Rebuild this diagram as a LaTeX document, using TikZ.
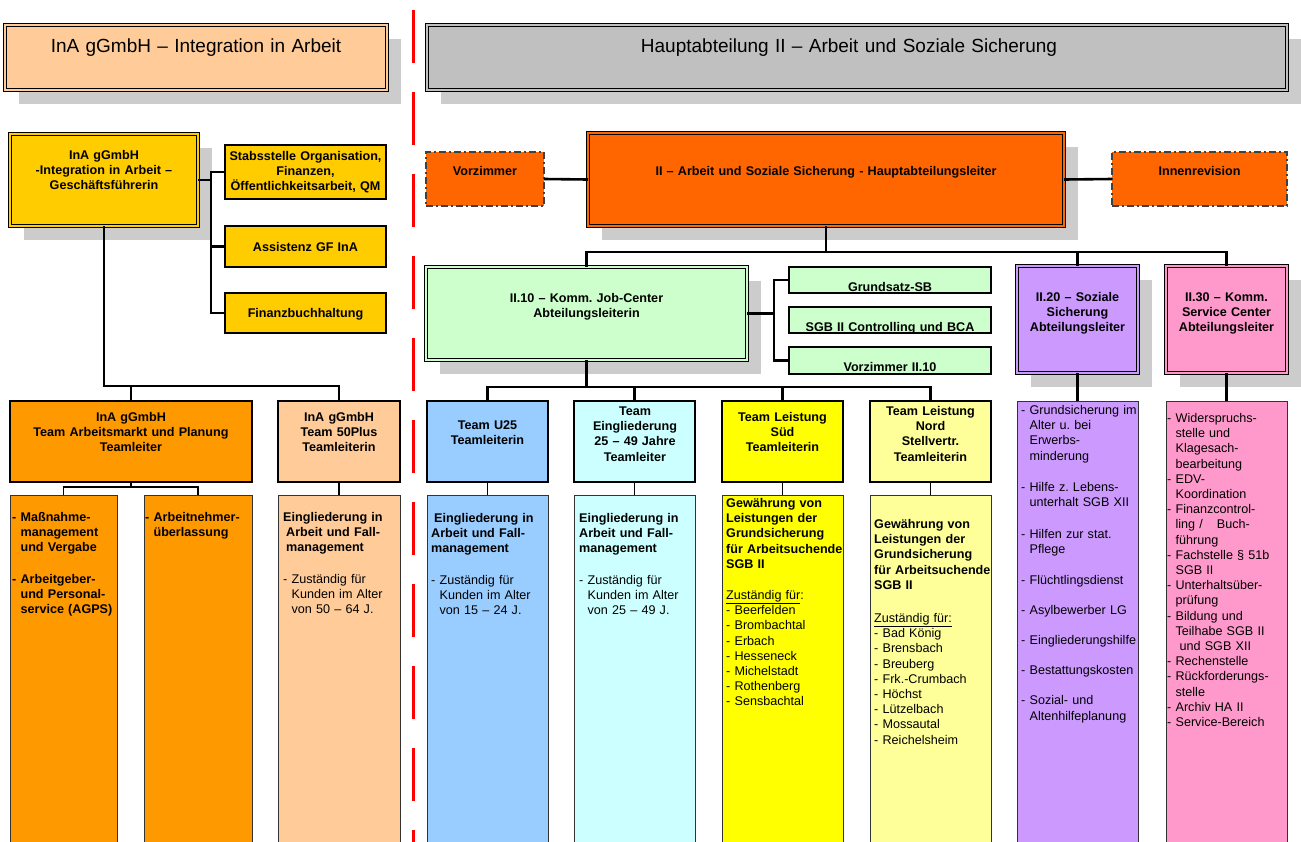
\documentclass[tikz,border=0pt]{standalone}
\usepackage{fontspec}
\setmainfont{Liberation Sans}
\usetikzlibrary{shadows}
\definecolor{peach}{HTML}{FFCC99}
\definecolor{titlegray}{HTML}{C0C0C0}
\definecolor{gold}{HTML}{FFCC00}
\definecolor{amber}{HTML}{FF9900}
\definecolor{hal}{HTML}{FF6600}
\definecolor{jcgreen}{HTML}{CCFFCC}
\definecolor{ublue}{HTML}{99CCFF}
\definecolor{ecyan}{HTML}{CCFFFF}
\definecolor{syellow}{HTML}{FFFF00}
\definecolor{nyellow}{HTML}{FFFF99}
\definecolor{lila}{HTML}{CC99FF}
\definecolor{rosa}{HTML}{FF99CC}
\newcommand\orgfont{\fontsize{12.6}{15.2}\selectfont\frenchspacing}
\newcommand\titlefont{\fontsize{19}{23}\selectfont}
\newcommand\ind{\hphantom{- }}

\begin{document}
\begin{tikzpicture}[x=1pt,y=-1pt,
 box/.style={draw,rectangle,anchor=north west,inner sep=0pt,outer sep=0pt},
 dbl/.style={box,line width=0.7pt,double=#1,double distance=2.4pt,fill=#1},
 shade/.style={drop shadow={shadow xshift=14pt,shadow yshift=-14pt,fill=black!20,opacity=1}},
 aside/.style={box,line width=1.3pt,fill=gold,minimum width=161pt},
 side/.style={box,draw=black!75,line width=1.3pt,dash pattern=on 7pt off 3pt on 2pt off 3pt,fill=hal},
 sub/.style={box,line width=1.1pt,fill=jcgreen,minimum width=202pt},
 team/.style={box,line width=1.6pt,minimum width=121pt,minimum height=81pt},
 list/.style={box,draw=black!80,line width=0.9pt,minimum height=350pt},
 txt/.style={font=\orgfont\bfseries,align=center,text width=#1,anchor=base,inner sep=0pt},
 txt/.default=170pt,
 ltxt/.style={font=\orgfont,align=left,text width=#1,anchor=base west,inner sep=0pt},
 ltxt/.default=150pt,
 bus/.style={line width=2.6pt},
 link/.style={line width=1.2pt},
 sep/.style={red,line width=3pt,dash pattern=on 53pt off 29pt}]
\useasboundingbox (0,0) rectangle (1301,841);

% titles
\node[dbl=peach,shade,minimum width=382pt,minimum height=65pt] (tl) at (5,25) {};
\node[txt=380pt,font=\titlefont] (tl-t) at (196,52) {InA gGmbH – Integration in Arbeit};
\node[dbl=titlegray,shade,minimum width=860pt,minimum height=65pt] (tr) at (427,25) {};
\node[txt=800pt,font=\titlefont] (tr-t) at (849,52) {Hauptabteilung II – Arbeit und Soziale Sicherung};
\draw[sep] (413,10) -- (413,845);

% InA gGmbH
\node[dbl=gold,shade,minimum width=188pt,minimum height=92pt] (gf) at (10,134) {};
\node[txt=190pt] (gf-t) at (104,159.5) {InA gGmbH\\-Integration in Arbeit –\\Geschäftsführerin};
\node[aside,minimum height=54pt] (stab) at (225,145) {};
\node[txt] (stab-t) at (305.5,160) {Stabsstelle Organisation,\\Finanzen,\\Öffentlichkeitsarbeit, QM};
\node[aside,minimum height=41pt] (asst) at (225,226) {};
\node[txt] (asst-t) at (305.5,251) {Assistenz GF InA};
\node[aside,minimum height=40pt] (fibu) at (225,293) {};
\node[txt] (fibu-t) at (305.5,317.5) {Finanzbuchhaltung};

\node[team,fill=amber,minimum width=242pt] (am) at (10,401) {};
\node[txt=240pt] (am-t) at (131,421.5) {InA gGmbH\\Team Arbeitsmarkt und Planung\\Teamleiter};
\node[team,fill=peach,minimum width=122pt] (plus) at (278,401) {};
\node[txt] (plus-t) at (339,421.5) {InA gGmbH\\Team 50Plus\\Teamleiterin};
\node[list,fill=amber,minimum width=107pt] (mass) at (10,495) {};
\node[ltxt,font=\orgfont\bfseries] (mass-t) at (12,521.5)
 {- Maßnahme-\\\ind management\\\ind und Vergabe\\[16pt]- Arbeitgeber-\\\ind und Personal-\\\ind service (AGPS)};
\node[list,fill=amber,minimum width=108pt] (arb) at (144,495) {};
\node[ltxt,font=\orgfont\bfseries] (arb-t) at (145,521.5) {- Arbeitnehmer-\\\ind überlassung};
\node[list,fill=peach,minimum width=122pt] (plusl) at (278,495) {};
\node[ltxt] (plusl-t) at (283,521.5)
 {\bfseries Eingliederung in\\\hspace*{3pt}Arbeit und Fall-\\\hspace*{3pt}management\\[16pt]\mdseries
  - Zuständig für\\\ind Kunden im Alter\\\ind von 50 – 64 J.};

% Hauptabteilung II
\node[side,minimum width=118pt,minimum height=54pt] (vz) at (426,152) {};
\node[txt] (vz-t) at (485,175.5) {Vorzimmer};
\node[dbl=hal,shade,minimum width=476pt,minimum height=93pt] (hal) at (588,133) {};
\node[txt=480pt] (hal-t) at (826,175.5) {II – Arbeit und Soziale Sicherung - Hauptabteilungsleiter};
\node[side,minimum width=175pt,minimum height=54pt] (irev) at (1112,152) {};
\node[txt] (irev-t) at (1199.5,175.5) {Innenrevision};

\node[dbl=jcgreen,shade,minimum width=321pt,minimum height=93pt] (jc) at (426,267) {};
\node[txt=300pt] (jc-t) at (586.5,302.5) {II.10 – Komm. Job-Center\\Abteilungsleiterin};
\node[sub,minimum height=26pt] (grund) at (789,267) {};
\node[txt=200pt] (grund-t) at (890,291.5) {Grundsatz-SB};
\node[sub,minimum height=26pt] (sgb) at (789,307) {};
\node[txt=200pt] (sgb-t) at (890,331.5) {SGB II Controlling und BCA};
\node[sub,minimum height=27pt] (vz10) at (789,347) {};
\node[txt=200pt] (vz10-t) at (890,371.5) {Vorzimmer II.10};

\node[dbl=lila,shade,minimum width=121pt,minimum height=107pt] (s20) at (1017,266) {};
\node[txt=130pt] (s20-t) at (1077.5,301.5) {II.20 – Soziale\\Sicherung\\Abteilungsleiter};
\node[dbl=rosa,shade,minimum width=121pt,minimum height=107pt] (s30) at (1166,266) {};
\node[txt=130pt] (s30-t) at (1226.5,301.5) {II.30 – Komm.\\Service Center\\Abteilungsleiter};

\node[team,fill=ublue] (u25) at (427,401) {};
\node[txt=130pt] (u25-t) at (487.5,429.5) {Team U25\\Teamleiterin};
\node[team,fill=ecyan] (egl) at (574,401) {};
\node[txt=130pt] (egl-t) at (635,415.5) {Team\\Eingliederung\\25 – 49 Jahre\\Teamleiter};
\node[team,fill=syellow] (sued) at (722,401) {};
\node[txt=130pt] (sued-t) at (782.5,421.5) {Team Leistung\\Süd\\Teamleiterin};
\node[team,fill=nyellow] (nord) at (870,401) {};
\node[txt=130pt] (nord-t) at (930.5,415.5) {Team Leistung\\Nord\\Stellvertr.\\Teamleiterin};

\node[list,fill=ublue,minimum width=121pt] (u25l) at (427,495) {};
\node[ltxt] (u25l-t) at (431,522.5)
 {\bfseries\hspace*{3pt}Eingliederung in\\Arbeit und Fall-\\management\\[16pt]\mdseries
  - Zuständig für\\\ind Kunden im Alter\\\ind von 15 – 24 J.};
\node[list,fill=ecyan,minimum width=121pt] (egll) at (574,495) {};
\node[ltxt] (egll-t) at (579,522.5)
 {\bfseries Eingliederung in\\Arbeit und Fall-\\management\\[16pt]\mdseries
  - Zuständig für\\\ind Kunden im Alter\\\ind von 25 – 49 J.};
\node[list,fill=syellow,minimum width=121pt] (suedl) at (722,495) {};
\node[ltxt] (suedl-t) at (726,507.5)
 {\bfseries Gewährung von\\Leistungen der\\Grundsicherung\\für Arbeitsuchende\\SGB II\\[16pt]\mdseries
  \underline{Zuständig für}:\\- Beerfelden\\- Brombachtal\\- Erbach\\- Hesseneck\\- Michelstadt\\- Rothenberg\\- Sensbachtal};
\node[list,fill=nyellow,minimum width=121pt] (nordl) at (870,495) {};
\node[ltxt] (nordl-t) at (874,528.5)
 {\bfseries Gewährung von\\Leistungen der\\Grundsicherung\\für Arbeitsuchende\\SGB II\\[18pt]\mdseries
  \underline{Zuständig für:}\\- Bad König\\- Brensbach\\- Breuberg\\- Frk.-Crumbach\\- Höchst\\- Lützelbach\\- Mossautal\\- Reichelsheim};

\node[list,fill=lila,minimum width=121pt,minimum height=444pt] (s20l) at (1017,401) {};
\node[ltxt] (s20l-t) at (1021,414.5)
 {- Grundsicherung im\\\ind Alter u. bei\\\ind Erwerbs-\\\ind minderung\\[16pt]- Hilfe z. Lebens-\\\ind unterhalt SGB XII\\[17pt]%
  - Hilfen zur stat.\\\ind Pflege\\[15pt]- Flüchtlingsdienst\\[15pt]- Asylbewerber LG\\[15pt]- Eingliederungshilfe\\[15pt]%
  - Bestattungskosten\\[15pt]- Sozial- und\\\ind Altenhilfeplanung};
\node[list,fill=rosa,minimum width=121pt,minimum height=444pt] (s30l) at (1166,401) {};
\node[ltxt] (s30l-t) at (1167,422.5)
 {- Widerspruchs-\\\ind stelle und\\\ind Klagesach-\\\ind bearbeitung\\- EDV-\\\ind Koordination\\- Finanzcontrol-\\\ind ling /\hspace{14pt}Buch-\\\ind führung\\%
  - Fachstelle § 51b\\\ind SGB II\\- Unterhaltsüber-\\\ind prüfung\\- Bildung und\\\ind Teilhabe SGB II\\\ind\hspace*{4pt}und SGB XII\\%
  - Rechenstelle\\- Rückforderungs-\\\ind stelle\\- Archiv HA II\\- Service-Bereich};

% connectors
\draw[bus] (gf.east) -- ++(13,0) coordinate (gfb) |- (stab.west);
\draw[bus] (gfb) |- (asst.west);
\draw[bus] (gfb) |- (fibu.west);
\draw[bus] (gf.south) -- ++(0,160) coordinate (gfd) -| (am.north);
\draw[bus] (gfd) -| (plus.north);
\draw[link] (am.south) -- ++(0,5) coordinate (amd) -| (mass.north);
\draw[link] (amd) -| (arb.north);
\draw[link] (plus.south) -- (plusl.north);

\draw[bus] (vz.east) -- (hal.west);
\draw[bus] (hal.east) -- (irev.west);
\draw[bus] (hal.south) -- ++(0,26) coordinate (hald) -| (jc.north);
\draw[bus] (hald) -| (s20.north);
\draw[bus] (hald) -| (s30.north);
\draw[bus] (jc.east) -- ++(27,0) coordinate (jcb) |- (grund.west);
\draw[bus] (jcb) |- (vz10.west);
\draw[bus] (jc.south) -- ++(0,27) coordinate (jcd) -| (u25.north);
\draw[bus] (jcd) -| (egl.north);
\draw[bus] (jcd) -| (sued.north);
\draw[bus] (jcd) -| (nord.north);
\foreach \t in {u25,egl,sued,nord}
 \draw[link] (\t.south) -- (\t l.north);
\draw[bus] (s20.south) -- (s20l.north);
\draw[bus] (s30.south) -- (s30l.north);
\end{tikzpicture}
\end{document}
